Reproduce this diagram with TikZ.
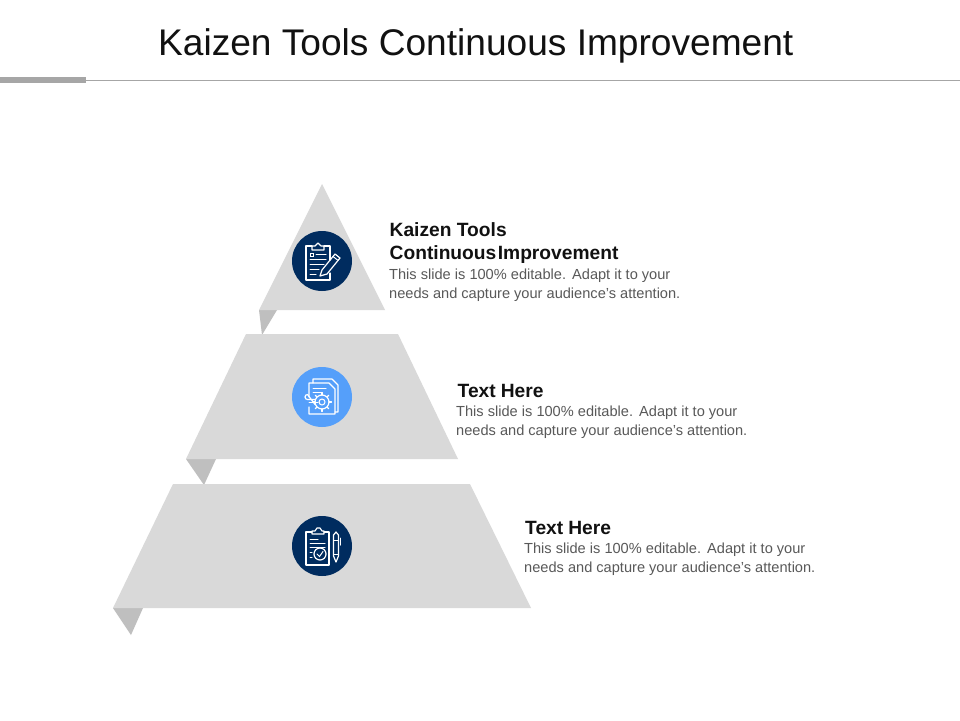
\documentclass[tikz,border=0pt]{standalone}
\usepackage{fontspec}
\usetikzlibrary{calc}
\setmainfont{Liberation Sans}
\definecolor{slab}{HTML}{D9D9D9}
\definecolor{foldc}{HTML}{BFBFBF}
\definecolor{navy}{HTML}{002C5F}
\definecolor{sky}{HTML}{559FFA}
\definecolor{rule}{HTML}{A6A6A6}
\definecolor{bodyc}{HTML}{595959}
\definecolor{headc}{HTML}{111111}
\tikzset{
  slabs/.style={fill=slab,draw=none},
  folds/.style={fill=foldc,draw=none},
  badge/.style={circle,minimum size=60pt,inner sep=0pt,draw=none},
  glyph/.style={draw=white,line width=1.2pt,line join=round,line cap=round,fill=none},
  thin glyph/.style={draw=white,line width=1pt,line cap=round,fill=none},
  head/.style={anchor=base west,inner sep=0pt,font=\fontsize{19.2}{23}\selectfont\bfseries,text=headc,align=left},
  body/.style={anchor=base west,inner sep=0pt,font=\frenchspacing\fontsize{14.6}{18.5}\selectfont,text=bodyc,align=left},
}
\begin{document}
\begin{tikzpicture}[x=1pt,y=-1pt]
\useasboundingbox (0,0) rectangle (960,720);
\fill[white] (0,0) rectangle (960,720);
% title and rule
\node[anchor=base west,inner sep=0pt,font=\fontsize{37.1}{40}\selectfont,text=headc] (title) at (158,55) {Kaizen Tools Continuous Improvement};
\fill[rule] (86,80.2) rectangle (960,81.2);
\fill[rule] (0,77) rectangle (86,82.5);
% folds
\fill[folds] (259,310) -- (277,310) -- (262,335) -- cycle;
\fill[folds] (186,459) -- (216,459) -- (204,485) -- cycle;
\fill[folds] (113,608) -- (143,608) -- (131,635) -- cycle;
% slabs
\fill[slabs] (322,184) -- (385,310) -- (259,310) -- cycle;
\fill[slabs] (246,334) -- (398,334) -- (458,459) -- (186,459) -- cycle;
\fill[slabs] (173,484) -- (470,484) -- (531,608) -- (113,608) -- cycle;
% badges
\node[badge,fill=navy] (b1) at (322,261) {};
\node[badge,fill=sky] (b2) at (322,397) {};
\node[badge,fill=navy] (b3) at (322,546) {};
% icon 1: clipboard + pencil
\begin{scope}[shift={(b1.center)}]
\draw[glyph] (-10,-15) -- (-16,-15) -- (-16,19) -- (8,19) -- (8,12);
\draw[glyph] (-10,-15) -- (-7,-15) -- (-4,-18) -- (-1,-15) -- (2,-15) -- (2,-11) -- (-10,-11) -- cycle;
\draw[glyph] (2,-15) -- (8,-15) -- (8,-1);
\draw[thin glyph] (-12,-8) rectangle (-9,-5);
\draw[thin glyph] (-6,-7) -- (4,-7);
\draw[thin glyph] (-12,-2) -- (4,-2);
\draw[thin glyph] (-12,3) -- (2,3);
\draw[thin glyph] (-12,8) -- (-3,8);
\draw[thin glyph] (-12,13) -- (-6,13);
\draw[glyph] (-2,15) -- (0,9) -- (13,-7) -- (18,-3) -- (5,13) -- cycle;
\draw[thin glyph] (11,-4.5) -- (15.5,-1);
\end{scope}
% icon 2: documents + gear
\begin{scope}[shift={(b2.center)}]
\draw[glyph] (-13,0) -- (-13,-14) -- (7,-14) -- (13,-8) -- (13,17) -- (-9,17) -- (-13,17) -- (-13,10);
\draw[glyph] (-9,-14) -- (-9,-18) -- (10,-18) -- (16,-12) -- (16,15) -- (13,15);
\draw[thin glyph] (-9,-9) -- (4,-9);
\draw[thin glyph] (-9,-5) -- (0,-5);
\draw[glyph] (0,5) circle (7);
\draw[thin glyph] (0,5) circle (3);
\foreach \a in {0,45,...,315}{\draw[glyph] ($(0,5)+(\a:7)$) -- ($(0,5)+(\a:9.5)$);}
\draw[glyph] (-7,2.5) -- (-14.5,2.5) arc (90:270:2.5) -- (-7,7.5);
\draw[thin glyph] (-13,5) -- (-4,5);
\end{scope}
% icon 3: clipboard + check + pen
\begin{scope}[shift={(b3.center)}]
\draw[glyph] (-10,-14) -- (-16,-14) -- (-16,19) -- (7,19) -- (7,-14) -- (2,-14);
\draw[glyph] (-10,-12) -- (-10,-15) -- (-7,-15) -- (-5,-18) -- (-2,-18) -- (0,-15) -- (2,-15) -- (2,-12) -- cycle;
\draw[thin glyph] (-12,-7) -- (-4,-7);
\draw[thin glyph] (-12,-3) -- (3,-3);
\draw[thin glyph] (-12,1) -- (3,1);
\draw[thin glyph] (-12,6) -- (-10,6);
\draw[thin glyph] (-12,11) -- (-10,11);
\draw[glyph] (-2,8) circle (6);
\draw[thin glyph] (-5,8) -- (-2.5,10.5) -- (1,5.5);
\draw[glyph] (11.5,-11) -- (11.5,10) -- (14,16) -- (16.5,10) -- (16.5,-11) -- (14,-14) -- cycle;
\draw[thin glyph] (11.5,-6) -- (16.5,-6);
\draw[thin glyph] (11.5,8) -- (16.5,8);
\draw[thin glyph] (18.5,-8) -- (18.5,-1);
\end{scope}
% texts
\node[head] (h1a) at (389.5,236) {Kaizen Tools};
\node[head] (h1b) at (389.5,259) {Continuous\hspace{1.5pt}Improvement};
\node[body] (t1a) at (389,279.5) {This slide is 100\% editable.\hspace{2pt} Adapt it to your};
\node[body] (t1b) at (389,298) {needs and capture your audience\symbol{39}s attention.};
\node[head] (h2) at (457.5,397) {Text\hspace{5pt}Here};
\node[body] (t2a) at (456,416.5) {This slide is 100\% editable.\hspace{2pt} Adapt it to your};
\node[body] (t2b) at (456,435) {needs and capture your audience\symbol{39}s attention.};
\node[head] (h3) at (525,534) {Text\hspace{5pt}Here};
\node[body] (t3a) at (524,553.5) {This slide is 100\% editable.\hspace{2pt} Adapt it to your};
\node[body] (t3b) at (524,572) {needs and capture your audience\symbol{39}s attention.};
\end{tikzpicture}
\end{document}
